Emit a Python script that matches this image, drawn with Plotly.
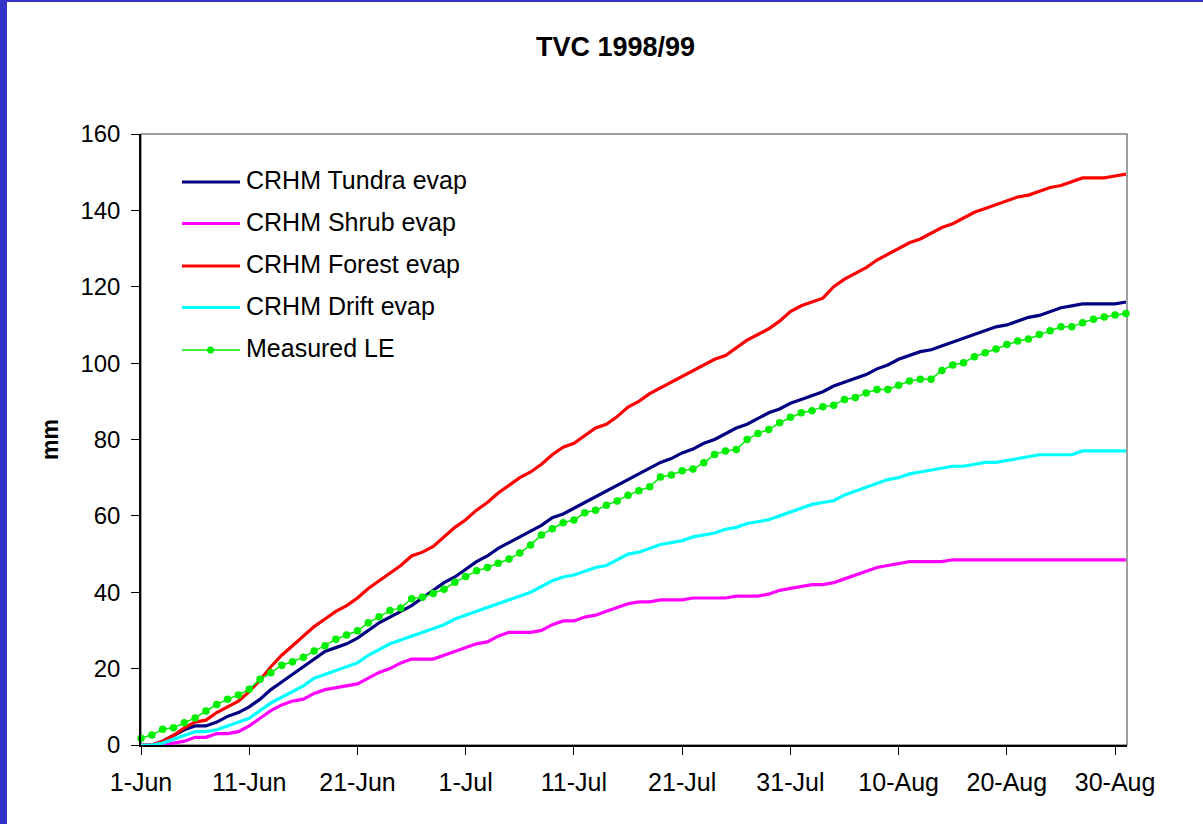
import plotly.graph_objects as go
import pandas as pd

dates = pd.date_range("1998-06-01", "1998-08-31", freq="D")

tick_dates = ["1998-06-01", "1998-06-11", "1998-06-21", "1998-07-01", "1998-07-11",
              "1998-07-21", "1998-07-31", "1998-08-10", "1998-08-20", "1998-08-30"]
tick_labels = ["1-Jun", "11-Jun", "21-Jun", "1-Jul", "11-Jul",
               "21-Jul", "31-Jul", "10-Aug", "20-Aug", "30-Aug"]

tundra = [0, 0, 1, 2.5, 4, 5, 5, 6, 7.5, 8.5,
          10, 12, 14.5, 16.5, 18.5, 20.5, 22.5, 24.5, 25.5, 26.5,
          28, 30, 32, 33.5, 35, 36.5, 38.5, 40.5, 42.5, 44,
          46, 48, 49.5, 51.5, 53, 54.5, 56, 57.5, 59.5, 60.5,
          62, 63.5, 65, 66.5, 68, 69.5, 71, 72.5, 74, 75,
          76.5, 77.5, 79, 80, 81.5, 83, 84, 85.5, 87, 88,
          89.5, 90.5, 91.5, 92.5, 94, 95, 96, 97, 98.5, 99.5,
          101, 102, 103, 103.5, 104.5, 105.5, 106.5, 107.5, 108.5, 109.5,
          110, 111, 112, 112.5, 113.5, 114.5, 115, 115.5, 115.5, 115.5,
          115.5, 116]

shrub = [0, 0, 0, 0.5, 1, 2, 2, 3, 3, 3.5,
         5, 7, 9, 10.5, 11.5, 12, 13.5, 14.5, 15, 15.5,
         16, 17.5, 19, 20, 21.5, 22.5, 22.5, 22.5, 23.5, 24.5,
         25.5, 26.5, 27, 28.5, 29.5, 29.5, 29.5, 30, 31.5, 32.5,
         32.5, 33.5, 34, 35, 36, 37, 37.5, 37.5, 38, 38,
         38, 38.5, 38.5, 38.5, 38.5, 39, 39, 39, 39.5, 40.5,
         41, 41.5, 42, 42, 42.5, 43.5, 44.5, 45.5, 46.5, 47,
         47.5, 48, 48, 48, 48, 48.5, 48.5, 48.5, 48.5, 48.5,
         48.5, 48.5, 48.5, 48.5, 48.5, 48.5, 48.5, 48.5, 48.5, 48.5,
         48.5, 48.5]

forest = [0, 0, 1, 2.5, 4.5, 6, 6.5, 8.5, 10, 11.5,
          14, 17, 20.5, 23.5, 26, 28.5, 31, 33, 35, 36.5,
          38.5, 41, 43, 45, 47, 49.5, 50.5, 52, 54.5, 57,
          59, 61.5, 63.5, 66, 68, 70, 71.5, 73.5, 76, 78,
          79, 81, 83, 84, 86, 88.5, 90, 92, 93.5, 95,
          96.5, 98, 99.5, 101, 102, 104, 106, 107.5, 109, 111,
          113.5, 115, 116, 117, 120, 122, 123.5, 125, 127, 128.5,
          130, 131.5, 132.5, 134, 135.5, 136.5, 138, 139.5, 140.5, 141.5,
          142.5, 143.5, 144, 145, 146, 146.5, 147.5, 148.5, 148.5, 148.5,
          149, 149.5]

drift = [0, 0, 0.5, 1.5, 2.5, 3.5, 3.5, 4, 5, 6,
         7, 9, 11, 12.5, 14, 15.5, 17.5, 18.5, 19.5, 20.5,
         21.5, 23.5, 25, 26.5, 27.5, 28.5, 29.5, 30.5, 31.5, 33,
         34, 35, 36, 37, 38, 39, 40, 41.5, 43, 44,
         44.5, 45.5, 46.5, 47, 48.5, 50, 50.5, 51.5, 52.5, 53,
         53.5, 54.5, 55, 55.5, 56.5, 57, 58, 58.5, 59, 60,
         61, 62, 63, 63.5, 64, 65.5, 66.5, 67.5, 68.5, 69.5,
         70, 71, 71.5, 72, 72.5, 73, 73, 73.5, 74, 74,
         74.5, 75, 75.5, 76, 76, 76, 76, 77, 77, 77,
         77, 77]

measured = [1.8, 2.6, 4.1, 4.5, 5.8, 7.1, 8.9, 10.6, 12.0, 13.1,
            14.6, 17.2, 18.9, 20.9, 21.8, 23.0, 24.6, 26.0, 27.7, 28.8,
            29.9, 32.0, 33.6, 35.2, 35.9, 38.3, 38.7, 39.7, 40.8, 42.6,
            44.1, 45.6, 46.5, 47.6, 48.7, 50.3, 52.4, 55.0, 56.6, 58.2,
            58.9, 60.8, 61.5, 62.8, 63.9, 65.4, 66.6, 67.6, 70.2, 70.7,
            71.8, 72.3, 73.9, 76.1, 77.0, 77.4, 80.0, 81.6, 82.6, 84.4,
            85.8, 87.0, 87.5, 88.6, 89.0, 90.5, 91.0, 92.2, 93.1, 93.1,
            94.2, 95.3, 95.8, 95.8, 98.1, 99.5, 100.1, 101.7, 102.7, 103.7,
            104.9, 105.8, 106.3, 107.5, 108.5, 109.5, 109.5, 110.6, 111.5, 112.1,
            112.6, 113.0]

series_names = ["CRHM Tundra evap", "CRHM Shrub evap", "CRHM Forest evap",
                "CRHM Drift evap", "Measured LE"]
series_values = [tundra, shrub, forest, drift, measured]
series_colors = ["#000080", "#FF00FF", "#FF0000", "#00FFFF", "#00EE00"]

FONT = "Liberation Sans, Arial, sans-serif"
W, H = 1203, 824
L, R, T, B = 141, 76, 134, 79
PW, PH = W - L - R, H - T - B

def px_x(x):
    return (x - L) / PW

def px_y(y):
    return (H - B - y) / PH

fig = go.Figure()
for name, vals, col in zip(series_names, series_values, series_colors):
    if name == "Measured LE":
        fig.add_trace(go.Scatter(x=dates, y=vals, name=name, mode="lines+markers",
                                 line=dict(color=col, width=1.5),
                                 marker=dict(color=col, size=7.5),
                                 cliponaxis=False, showlegend=False))
    else:
        fig.add_trace(go.Scatter(x=dates, y=vals, name=name, mode="lines",
                                 line=dict(color=col, width=3.2),
                                 cliponaxis=False, showlegend=False))

shapes = []
shapes.append(dict(type="rect", xref="paper", yref="paper", x0=0, x1=1, y0=0, y1=1,
                   line=dict(color="#808080", width=1.5), layer="below"))
shapes.append(dict(type="rect", xref="paper", yref="paper",
                   x0=px_x(0), x1=px_x(7), y0=px_y(H), y1=px_y(0),
                   fillcolor="#3333CC", line=dict(width=0)))
shapes.append(dict(type="rect", xref="paper", yref="paper",
                   x0=px_x(0), x1=px_x(W), y0=px_y(2), y1=px_y(0),
                   fillcolor="#3333CC", line=dict(width=0)))

annotations = []
leg_rows = [182, 223.5, 266, 307.5, 350]
for name, col, yy in zip(series_names, series_colors, leg_rows):
    lw = 1.5 if name == "Measured LE" else 3.2
    shapes.append(dict(type="line", xref="paper", yref="paper",
                       x0=px_x(182), x1=px_x(240), y0=px_y(yy), y1=px_y(yy),
                       line=dict(color=col, width=lw)))
    if name == "Measured LE":
        shapes.append(dict(type="circle", xref="paper", yref="paper",
                           x0=px_x(210.5 - 3.5), x1=px_x(210.5 + 3.5),
                           y0=px_y(yy + 3.5), y1=px_y(yy - 3.5),
                           fillcolor=col, line=dict(width=0)))
    annotations.append(dict(text=name, xref="paper", yref="paper",
                            x=px_x(244), y=px_y(yy - 2), xanchor="left", yanchor="middle",
                            showarrow=False, font=dict(family=FONT, size=25, color="black")))

annotations.append(dict(text="<b>TVC 1998/99</b>", xref="paper", yref="paper",
                        x=px_x(615), y=px_y(47), xanchor="center", yanchor="middle",
                        showarrow=False, font=dict(family=FONT, size=27, color="black")))
annotations.append(dict(text="<b>mm</b>", xref="paper", yref="paper",
                        x=px_x(50), y=px_y(440), xanchor="center", yanchor="middle",
                        textangle=-90, showarrow=False,
                        font=dict(family=FONT, size=23, color="black")))

fig.update_layout(
    width=W, height=H,
    margin=dict(l=L, r=R, t=T, b=B, pad=0),
    paper_bgcolor="white", plot_bgcolor="white",
    font=dict(family=FONT, size=24, color="black"),
    showlegend=False,
    shapes=shapes, annotations=annotations,
)
fig.update_xaxes(
    type="date",
    range=["1998-06-01", "1998-08-31 02:24"],
    tickvals=tick_dates, ticktext=tick_labels,
    ticks="outside", ticklen=8, tickcolor="black", tickwidth=1,
    showline=True, linecolor="black", linewidth=1.5,
    showgrid=False, zeroline=False,
    tickfont=dict(family=FONT, size=25, color="black"),
    ticklabelstandoff=6,
)
fig.update_yaxes(
    range=[0, 160], tick0=0, dtick=20,
    ticks="outside", ticklen=8, tickcolor="black", tickwidth=1,
    showline=True, linecolor="black", linewidth=1.5,
    showgrid=False, zeroline=False,
    tickfont=dict(family=FONT, size=24, color="black"),
    ticklabelstandoff=6,
)

fig.write_html("out.html",
               config={"displayModeBar": False},
               post_script="document.body.style.margin='0';document.body.style.overflow='hidden';")
